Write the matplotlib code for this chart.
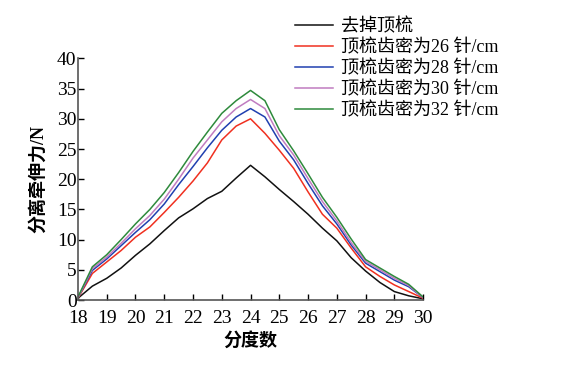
import matplotlib
matplotlib.use("Agg")
import matplotlib.pyplot as plt

plt.rcParams['font.family'] = ['Liberation Serif', 'Noto Sans CJK SC']

# 分度数 (half-degree steps)
x = [18, 18.5, 19, 19.5, 20, 20.5, 21, 21.5, 22, 22.5, 23, 23.5, 24,
     24.5, 25, 25.5, 26, 26.5, 27, 27.5, 28, 28.5, 29, 29.5, 30]

no_comb = [0.3, 2.3, 3.6, 5.3, 7.4, 9.3, 11.5, 13.6, 15.1, 16.8, 18.0, 20.2, 22.3,
           20.4, 18.3, 16.3, 14.2, 11.9, 9.8, 7.0, 4.8, 2.9, 1.4, 0.7, 0.2]
d26 = [0.3, 4.4, 6.3, 8.2, 10.4, 12.1, 14.5, 17.0, 19.7, 22.7, 26.5, 28.8, 30.0,
       27.6, 24.8, 21.8, 17.9, 14.2, 11.9, 8.6, 5.5, 3.9, 2.5, 1.4, 0.3]
d28 = [0.4, 4.9, 6.8, 9.0, 11.2, 13.3, 15.9, 19.1, 22.1, 25.2, 28.1, 30.3, 31.7,
       30.3, 26.3, 23.2, 19.3, 15.6, 12.6, 9.1, 6.1, 4.7, 3.3, 2.2, 0.4]
d30 = [0.4, 5.2, 7.1, 9.4, 11.8, 14.0, 16.7, 20.0, 23.5, 26.5, 29.5, 31.7, 33.2,
       31.7, 27.2, 24.0, 20.1, 16.3, 13.1, 9.5, 6.4, 5.0, 3.6, 2.4, 0.4]
d32 = [0.5, 5.5, 7.5, 10.0, 12.6, 15.0, 17.8, 21.1, 24.6, 27.8, 30.9, 33.0, 34.7,
       33.0, 28.2, 24.7, 20.9, 17.0, 13.7, 10.1, 6.7, 5.3, 3.9, 2.6, 0.5]

labels = ['去掉顶梳', '顶梳齿密为26 针/cm', '顶梳齿密为28 针/cm',
          '顶梳齿密为30 针/cm', '顶梳齿密为32 针/cm']
colors = ['#111111', '#f03020', '#2040b0', '#c07cc0', '#2e8a3c']

fig = plt.figure(figsize=(5.63, 3.65), dpi=100)
ax = fig.add_axes([0.1385, 0.178, 0.613, 0.662])

for ys, lab, c in zip([no_comb, d26, d28, d30, d32], labels, colors):
    ax.plot(x, ys, color=c, lw=1.1, label=lab)

ax.set_xlim(18, 30)
ax.set_ylim(0, 40)
ax.set_xticks(range(18, 31))
ax.set_yticks(range(0, 41, 5))
ax.tick_params(direction='in', length=4, width=1, labelsize=14)
ax.tick_params(axis='x', pad=7)
ax.tick_params(axis='y', pad=1)
for s in ['top', 'right']:
    ax.spines[s].set_visible(False)
for s in ['left', 'bottom']:
    ax.spines[s].set_color('#555555')
    ax.spines[s].set_linewidth(1.2)

ax.set_xlabel('分度数', fontsize=13, fontweight='bold', labelpad=4)
ax.set_ylabel('分离牵伸力/N', fontsize=13, fontweight='bold', labelpad=7)

fig.legend(loc='upper left', bbox_to_anchor=(0.501, 0.985), frameon=False,
           fontsize=13, handlelength=2.1, handletextpad=0.45,
           labelspacing=0.2, borderpad=0.2)

fig.savefig('out.png', dpi=100)
